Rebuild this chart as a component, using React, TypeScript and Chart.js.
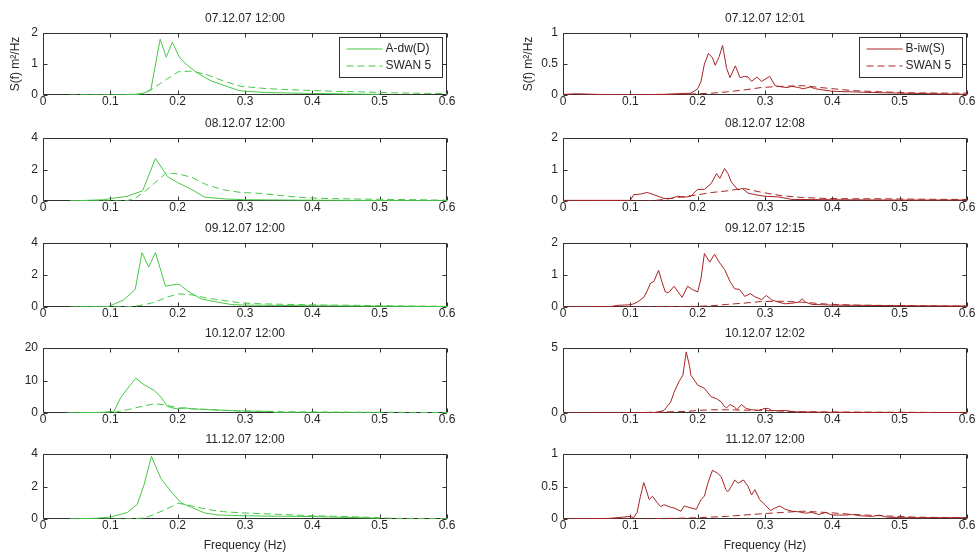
import React, { useEffect, useRef } from 'react';
import { Chart, registerables } from 'chart.js';

Chart.register(...registerables);

// ---------------- DATA ----------------
const X_TICKS = [0, 0.1, 0.2, 0.3, 0.4, 0.5, 0.6];
const TITLES_A = ['07.12.07 12:00', '08.12.07 12:00', '09.12.07 12:00', '10.12.07 12:00', '11.12.07 12:00'];
const TITLES_B = ['07.12.07 12:01', '08.12.07 12:08', '09.12.07 12:15', '10.12.07 12:02', '11.12.07 12:00'];
const YMAX_A = [2, 4, 4, 20, 4];
const YSTEP_A = [1, 2, 2, 10, 2];
const YMAX_B = [1, 2, 2, 5, 1];
const YSTEP_B = [0.5, 1, 1, 5, 0.5];
const LABEL_A = 'A-dw(D)';
const LABEL_B = 'B-iw(S)';
const LABEL_SWAN = 'SWAN 5';
const Y_TITLE = 'S(f) m²/Hz';
const X_TITLE = 'Frequency (Hz)';

// SWAN model frequency grid (shared)
const SWAN_FREQ = [0.04, 0.044, 0.048, 0.053, 0.058, 0.064, 0.07, 0.078, 0.085, 0.094, 0.103, 0.114, 0.125, 0.138, 0.151, 0.166, 0.183, 0.201, 0.221, 0.243, 0.268, 0.294, 0.324, 0.356, 0.392, 0.431, 0.474, 0.521, 0.573, 0.6];

// SWAN at buoy A
const SWAN_A1 = [0, 0, 0, 0, 0, 0, 0, 0, 0, 0, 0, 0, 0.005, 0.02, 0.07, 0.25, 0.5, 0.75, 0.77, 0.66, 0.45, 0.28, 0.22, 0.18, 0.15, 0.12, 0.1, 0.07, 0.05, 0.05];
const SWAN_A2 = [0, 0, 0, 0, 0, 0, 0, 0, 0, 0, 0, 0, 0.02, 0.2, 0.6, 1.15, 1.78, 1.72, 1.5, 1.03, 0.71, 0.54, 0.48, 0.33, 0.2, 0.15, 0.12, 0.1, 0.07, 0.05];
const SWAN_A3 = [0, 0, 0, 0, 0, 0, 0, 0, 0, 0, 0, 0.01, 0.02, 0.06, 0.15, 0.3, 0.6, 0.82, 0.76, 0.56, 0.41, 0.25, 0.2, 0.17, 0.14, 0.12, 0.1, 0.07, 0.05, 0.04];
const SWAN_A4 = [0, 0, 0, 0, 0, 0, 0, 0, 0, 0, 0.05, 0.55, 1.0, 1.6, 2.2, 2.85, 2.4, 1.6, 1.3, 1.1, 0.8, 0.6, 0.5, 0.4, 0.35, 0.3, 0.25, 0.2, 0.15, 0.15];
const SWAN_A5 = [0, 0, 0, 0, 0, 0, 0, 0, 0, 0, 0, 0, 0.01, 0.03, 0.06, 0.3, 0.6, 0.97, 0.8, 0.6, 0.45, 0.38, 0.33, 0.28, 0.21, 0.17, 0.12, 0.04, 0.03, 0.02];

// SWAN at buoy B
const SWAN_B1 = [0, 0, 0, 0, 0, 0, 0, 0, 0, 0, 0, 0.005, 0.005, 0.01, 0.01, 0.01, 0.015, 0.02, 0.03, 0.05, 0.08, 0.12, 0.14, 0.15, 0.11, 0.07, 0.05, 0.035, 0.03, 0.03];
const SWAN_B2 = [0, 0, 0, 0, 0, 0, 0, 0, 0, 0, 0, 0, 0, 0.02, 0.05, 0.1, 0.15, 0.2, 0.27, 0.32, 0.4, 0.28, 0.17, 0.11, 0.08, 0.07, 0.07, 0.06, 0.05, 0.05];
const SWAN_B3 = [0, 0, 0, 0, 0, 0, 0, 0, 0, 0, 0, 0.005, 0.005, 0.01, 0.01, 0.01, 0.015, 0.02, 0.04, 0.08, 0.12, 0.17, 0.18, 0.15, 0.09, 0.06, 0.05, 0.04, 0.03, 0.03];
const SWAN_B4 = [0, 0, 0, 0, 0, 0, 0, 0, 0, 0, 0, 0.02, 0.05, 0.07, 0.08, 0.1, 0.12, 0.2, 0.25, 0.25, 0.22, 0.2, 0.15, 0.1, 0.08, 0.07, 0.06, 0.05, 0.04, 0.04];
const SWAN_B5 = [0, 0, 0, 0, 0, 0, 0, 0, 0, 0, 0, 0, 0.005, 0.005, 0.01, 0.01, 0.015, 0.02, 0.03, 0.04, 0.06, 0.08, 0.1, 0.12, 0.1, 0.07, 0.05, 0.03, 0.02, 0.02];

// Buoy A-dw(D) measured spectra
const A1_F = [0.055, 0.1, 0.13, 0.145, 0.16, 0.174, 0.183, 0.192, 0.203, 0.215, 0.23, 0.25, 0.27, 0.29, 0.3, 0.33, 0.4, 0.5];
const A1_V = [0, 0, 0.01, 0.03, 0.15, 1.8, 1.22, 1.7, 1.2, 0.95, 0.7, 0.45, 0.3, 0.15, 0.12, 0.08, 0.05, 0.02];
const A2_F = [0.04, 0.09, 0.1, 0.125, 0.148, 0.167, 0.185, 0.2, 0.22, 0.24, 0.27, 0.3, 0.4, 0.5, 0.6];
const A2_V = [0, 0.08, 0.15, 0.3, 0.65, 2.7, 1.55, 1.17, 0.75, 0.25, 0.13, 0.08, 0.05, 0.03, 0.02];
const A3_F = [0.045, 0.095, 0.1, 0.12, 0.137, 0.147, 0.157, 0.167, 0.182, 0.198, 0.203, 0.215, 0.235, 0.26, 0.28, 0.3, 0.4, 0.5, 0.6];
const A3_V = [0, 0.02, 0.08, 0.45, 1.1, 3.4, 2.5, 3.4, 1.3, 1.42, 1.4, 1.0, 0.5, 0.3, 0.15, 0.12, 0.08, 0.05, 0.03];
const A4_F = [0.035, 0.09, 0.1, 0.105, 0.115, 0.12, 0.13, 0.138, 0.15, 0.165, 0.175, 0.185, 0.195, 0.2, 0.21, 0.22, 0.25, 0.3, 0.34, 0.345, 0.4, 0.5];
const A4_V = [0, 0.2, 0.5, 0.3, 4.6, 6, 8.7, 10.7, 8.7, 7, 4.9, 2, 1.4, 1.3, 1.6, 1.3, 1.0, 0.6, 0.5, 0.1, 0.05, 0.05];
const A5_F = [0.04, 0.08, 0.1, 0.125, 0.14, 0.15, 0.161, 0.175, 0.19, 0.205, 0.22, 0.24, 0.26, 0.3, 0.35, 0.4, 0.45, 0.5];
const A5_V = [0, 0.05, 0.12, 0.4, 0.9, 2.1, 3.85, 2.5, 1.7, 1.0, 0.73, 0.37, 0.25, 0.2, 0.17, 0.15, 0.1, 0.05];

// Buoy B-iw(S) measured spectra
const B1_F = [0, 0.02, 0.05, 0.1, 0.15, 0.19, 0.2, 0.205, 0.21, 0.216, 0.222, 0.226, 0.232, 0.237, 0.243, 0.248, 0.256, 0.263, 0.27, 0.275, 0.28, 0.288, 0.295, 0.307, 0.315, 0.325, 0.333, 0.34, 0.35, 0.357, 0.367, 0.375, 0.387, 0.4, 0.43, 0.46, 0.5, 0.55, 0.6];
const B1_V = [0.01, 0.02, 0.01, 0, 0.01, 0.03, 0.1, 0.22, 0.5, 0.67, 0.6, 0.48, 0.62, 0.8, 0.43, 0.28, 0.47, 0.28, 0.3, 0.29, 0.22, 0.29, 0.22, 0.3, 0.15, 0.13, 0.12, 0.14, 0.12, 0.1, 0.13, 0.1, 0.08, 0.06, 0.05, 0.04, 0.03, 0.02, 0.01];
const B2_F = [0, 0.1, 0.105, 0.115, 0.125, 0.135, 0.15, 0.16, 0.17, 0.18, 0.19, 0.2, 0.21, 0.22, 0.228, 0.233, 0.24, 0.245, 0.25, 0.26, 0.266, 0.275, 0.285, 0.3, 0.32, 0.34, 0.4, 0.5, 0.6];
const B2_V = [0.02, 0.02, 0.2, 0.22, 0.27, 0.2, 0.08, 0.08, 0.15, 0.12, 0.15, 0.37, 0.37, 0.55, 0.87, 0.72, 1.03, 0.87, 0.6, 0.35, 0.4, 0.25, 0.2, 0.15, 0.13, 0.05, 0.04, 0.03, 0.03];
const B3_F = [0, 0.07, 0.08, 0.1, 0.105, 0.11, 0.12, 0.125, 0.13, 0.135, 0.142, 0.147, 0.152, 0.157, 0.165, 0.17, 0.177, 0.185, 0.192, 0.2, 0.205, 0.21, 0.218, 0.225, 0.232, 0.24, 0.248, 0.255, 0.262, 0.27, 0.278, 0.285, 0.295, 0.302, 0.31, 0.32, 0.33, 0.34, 0.35, 0.355, 0.36, 0.37, 0.4, 0.45, 0.5, 0.6];
const B3_V = [0, 0.01, 0.05, 0.07, 0.1, 0.15, 0.3, 0.5, 0.75, 0.8, 1.15, 0.78, 0.47, 0.45, 0.65, 0.5, 0.3, 0.65, 0.55, 0.47, 0.9, 1.67, 1.4, 1.65, 1.4, 1.17, 0.8, 0.57, 0.55, 0.33, 0.42, 0.32, 0.23, 0.36, 0.22, 0.15, 0.1, 0.12, 0.15, 0.26, 0.15, 0.08, 0.06, 0.05, 0.04, 0.03];
const B4_F = [0, 0.1, 0.14, 0.15, 0.16, 0.165, 0.172, 0.178, 0.183, 0.188, 0.19, 0.2, 0.21, 0.22, 0.228, 0.235, 0.24, 0.243, 0.248, 0.255, 0.258, 0.265, 0.272, 0.28, 0.29, 0.3, 0.305, 0.31, 0.32, 0.33, 0.34, 0.35, 0.4, 0.5, 0.6];
const B4_V = [0, 0, 0.05, 0.2, 0.85, 1.6, 2.4, 2.9, 4.7, 3.6, 2.9, 2.15, 1.9, 1.25, 1.1, 0.85, 0.5, 0.4, 0.65, 0.45, 0.25, 0.65, 0.35, 0.25, 0.2, 0.35, 0.35, 0.2, 0.18, 0.2, 0.1, 0.08, 0.05, 0.04, 0.03];
const B5_F = [0, 0.07, 0.09, 0.1, 0.105, 0.11, 0.115, 0.12, 0.125, 0.128, 0.133, 0.14, 0.145, 0.15, 0.16, 0.165, 0.175, 0.18, 0.19, 0.198, 0.205, 0.21, 0.215, 0.222, 0.23, 0.235, 0.242, 0.245, 0.25, 0.255, 0.26, 0.268, 0.275, 0.28, 0.285, 0.292, 0.3, 0.308, 0.315, 0.322, 0.33, 0.34, 0.35, 0.36, 0.37, 0.38, 0.39, 0.4, 0.42, 0.43, 0.44, 0.46, 0.47, 0.48, 0.5, 0.6];
const B5_V = [0, 0.01, 0.03, 0.04, 0.02, 0.1, 0.35, 0.56, 0.4, 0.3, 0.35, 0.25, 0.19, 0.22, 0.18, 0.17, 0.12, 0.2, 0.17, 0.15, 0.3, 0.35, 0.55, 0.75, 0.7, 0.65, 0.45, 0.42, 0.5, 0.6, 0.55, 0.6, 0.5, 0.37, 0.45, 0.3, 0.22, 0.13, 0.17, 0.2, 0.15, 0.12, 0.11, 0.09, 0.1, 0.07, 0.1, 0.06, 0.06, 0.07, 0.05, 0.04, 0.06, 0.03, 0.02, 0.02];

const A_F = [A1_F, A2_F, A3_F, A4_F, A5_F];
const A_V = [A1_V, A2_V, A3_V, A4_V, A5_V];
const B_F = [B1_F, B2_F, B3_F, B4_F, B5_F];
const B_V = [B1_V, B2_V, B3_V, B4_V, B5_V];
const SWAN_A = [SWAN_A1, SWAN_A2, SWAN_A3, SWAN_A4, SWAN_A5];
const SWAN_B = [SWAN_B1, SWAN_B2, SWAN_B3, SWAN_B4, SWAN_B5];

// ---------------- LAYOUT / STYLE ----------------
const FONT = '"Liberation Sans", Arial, Helvetica, sans-serif';
const TEXT_COLOR = '#262626';
const AXIS_COLOR = '#303030';
const GREEN = 'rgb(70,200,70)';
const RED = 'rgb(168,36,36)';
const ROW_TOP = [33, 138, 243, 348, 454];
const ROW_BOTTOM = [95, 201, 307, 413, 519];
const TITLE_BOX = 22; // 14.4 line + 7.6 pad
const COLS = [
  { left: 0, width: 460, axisW: 43, padR: 13, yTitlePad: 8 },
  { left: 490, width: 486, axisW: 73, padR: 9, yTitlePad: 31 },
];

Chart.defaults.font.family = FONT;
Chart.defaults.font.size = 12;
Chart.defaults.color = TEXT_COLOR;

function pts(F: number[], V: number[]) {
  const n = Math.min(F.length, V.length);
  const out: { x: number; y: number }[] = [];
  for (let i = 0; i < n; i++) out.push({ x: F[i], y: V[i] });
  return out;
}

const framePlugin = {
  id: 'matlabFrame',
  beforeDatasetsDraw(chart: any) {
    const { ctx, chartArea: a, scales } = chart;
    const L = Math.round(a.left) + 0.5;
    const R = Math.round(a.right) - 0.5;
    const T = Math.round(a.top) + 0.5;
    const B = Math.round(a.bottom) - 0.5;
    ctx.save();
    ctx.strokeStyle = AXIS_COLOR;
    ctx.lineWidth = 1;
    ctx.setLineDash([]);
    ctx.beginPath();
    ctx.moveTo(L, T);
    ctx.lineTo(R, T);
    ctx.lineTo(R, B);
    ctx.lineTo(L, B);
    ctx.closePath();
    const xs = scales.x;
    const ys = scales.y;
    X_TICKS.forEach((v) => {
      const px = Math.round(xs.getPixelForValue(v)) + 0.5;
      ctx.moveTo(px, B);
      ctx.lineTo(px, B - 4);
      ctx.moveTo(px, T);
      ctx.lineTo(px, T + 4);
    });
    ys.ticks.forEach((t: any) => {
      const py = Math.round(ys.getPixelForValue(t.value)) + 0.5;
      ctx.moveTo(L, py);
      ctx.lineTo(L + 4, py);
      ctx.moveTo(R, py);
      ctx.lineTo(R - 4, py);
    });
    ctx.stroke();
    ctx.restore();
  },
};

const legendPlugin = {
  id: 'insetLegend',
  afterDraw(chart: any, _args: any, opts: any) {
    if (!opts || !opts.display) return;
    const { ctx, chartArea: a } = chart;
    const ds = chart.data.datasets;
    const w = 103;
    const h = 40;
    const left = Math.round(a.right - 5 - w) + 0.5;
    const top = Math.round(a.top + 4) + 0.5;
    ctx.save();
    ctx.fillStyle = '#ffffff';
    ctx.fillRect(left, top, w, h);
    ctx.strokeStyle = AXIS_COLOR;
    ctx.lineWidth = 1;
    ctx.setLineDash([]);
    ctx.strokeRect(left, top, w, h);
    ctx.font = '12px ' + FONT;
    ctx.textBaseline = 'middle';
    ctx.textAlign = 'left';
    ds.forEach((d: any, i: number) => {
      const y = Math.round(top + 11.5 + i * 16.5);
      ctx.strokeStyle = d.borderColor;
      ctx.lineWidth = 1;
      ctx.setLineDash(d.borderDash || []);
      ctx.beginPath();
      ctx.moveTo(left + 7, y);
      ctx.lineTo(left + 43, y);
      ctx.stroke();
      ctx.fillStyle = TEXT_COLOR;
      ctx.fillText(d.label, left + 46, y);
    });
    ctx.restore();
  },
};

type Spec = {
  col: number;
  row: number;
  title: string;
  yMax: number;
  yStep: number;
  label: string;
  color: string;
  solid: { x: number; y: number }[];
  dashed: { x: number; y: number }[];
};

function Panel({ spec }: { spec: Spec }) {
  const ref = useRef<HTMLCanvasElement>(null);
  const c = COLS[spec.col];
  const isLast = spec.row === 4;
  const isFirst = spec.row === 0;
  const xh = isLast ? 36 : 20;
  const top = ROW_TOP[spec.row] - TITLE_BOX;
  const height = ROW_BOTTOM[spec.row] - ROW_TOP[spec.row] + TITLE_BOX + xh;

  useEffect(() => {
    const chart = new Chart(ref.current as HTMLCanvasElement, {
      type: 'line',
      data: {
        datasets: [
          {
            label: spec.label,
            data: spec.solid,
            borderColor: spec.color,
            backgroundColor: spec.color,
            borderWidth: 1,
            pointRadius: 0,
            tension: 0,
            fill: false,
          },
          {
            label: LABEL_SWAN,
            data: spec.dashed,
            borderColor: spec.color,
            backgroundColor: spec.color,
            borderWidth: 1,
            borderDash: [7, 4],
            pointRadius: 0,
            tension: 0,
            fill: false,
          },
        ],
      },
      options: {
        responsive: false,
        animation: false,
        events: [],
        layout: { padding: { left: 0, right: c.padR, top: 0, bottom: 0 } },
        plugins: {
          legend: { display: false },
          tooltip: { enabled: false },
          title: {
            display: true,
            text: spec.title,
            fullSize: false,
            color: TEXT_COLOR,
            font: { size: 12, weight: 'normal', family: FONT },
            padding: { top: 0, bottom: 7.6 },
          },
          insetLegend: { display: isFirst },
        } as any,
        scales: {
          x: {
            type: 'linear',
            min: 0,
            max: 0.6,
            grid: { display: false, drawTicks: false },
            border: { display: false },
            afterBuildTicks: (s: any) => {
              s.ticks = X_TICKS.map((v) => ({ value: v }));
            },
            ticks: {
              padding: -1,
              maxRotation: 0,
              autoSkip: false,
              color: TEXT_COLOR,
              callback: (v: any) => String(Number(Number(v).toFixed(2))),
            },
            title: {
              display: isLast,
              text: X_TITLE,
              color: TEXT_COLOR,
              font: { size: 12, family: FONT },
              padding: { top: 0, bottom: 2 },
            },
            afterFit: (s: any) => {
              s.height = xh;
            },
          },
          y: {
            type: 'linear',
            min: 0,
            max: spec.yMax,
            grid: { display: false, drawTicks: false },
            border: { display: false },
            ticks: {
              stepSize: spec.yStep,
              padding: 5,
              autoSkip: false,
              color: TEXT_COLOR,
              callback: (v: any) => String(Number(Number(v).toFixed(2))),
            },
            title: {
              display: isFirst,
              text: Y_TITLE,
              color: TEXT_COLOR,
              font: { size: 12, family: FONT },
              padding: { top: c.yTitlePad, bottom: 0 },
            },
            afterFit: (s: any) => {
              s.width = c.axisW;
            },
          },
        },
      } as any,
      plugins: [framePlugin, legendPlugin],
    });
    return () => chart.destroy();
  }, []);

  return (
    <div style={{ position: 'absolute', left: c.left, top, width: c.width, height }}>
      <canvas ref={ref} width={c.width} height={height} style={{ display: 'block', width: c.width, height }} />
    </div>
  );
}

const SPECS: Spec[] = [];
for (let r = 0; r < 5; r++) {
  SPECS.push({
    col: 0,
    row: r,
    title: TITLES_A[r],
    yMax: YMAX_A[r],
    yStep: YSTEP_A[r],
    label: LABEL_A,
    color: GREEN,
    solid: pts(A_F[r], A_V[r]),
    dashed: pts(SWAN_FREQ, SWAN_A[r]),
  });
  SPECS.push({
    col: 1,
    row: r,
    title: TITLES_B[r],
    yMax: YMAX_B[r],
    yStep: YSTEP_B[r],
    label: LABEL_B,
    color: RED,
    solid: pts(B_F[r], B_V[r]),
    dashed: pts(SWAN_FREQ, SWAN_B[r]),
  });
}

export default function App() {
  return (
    <div style={{ position: 'absolute', left: 0, top: 0, width: 976, height: 555, background: '#ffffff', overflow: 'hidden' }}>
      {SPECS.map((s, i) => (
        <Panel key={i} spec={s} />
      ))}
    </div>
  );
}
